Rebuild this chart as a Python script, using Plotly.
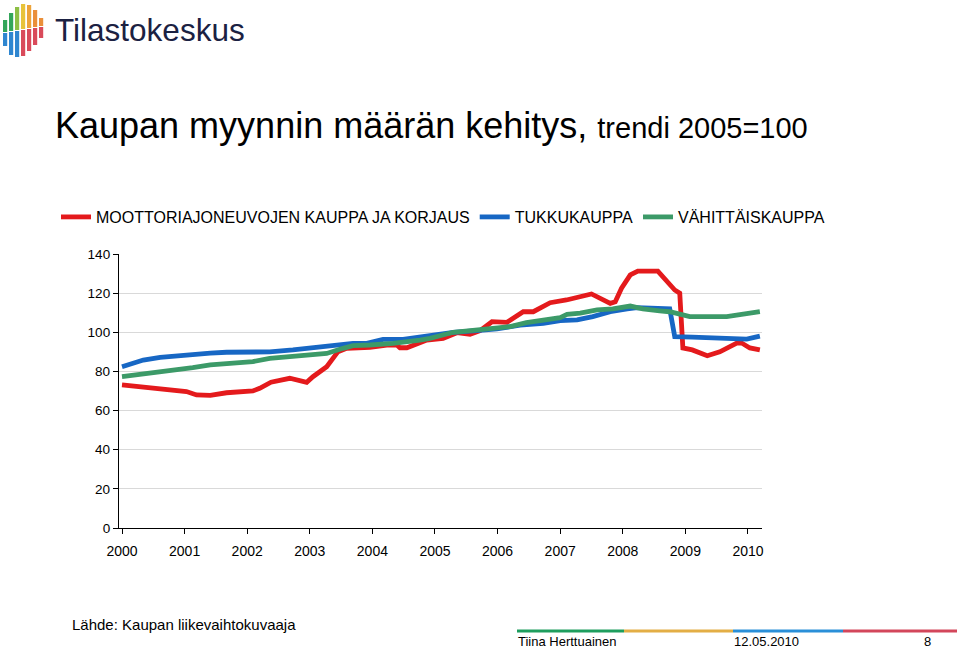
import plotly.graph_objects as go

# ---------------- data ----------------
moottori_years = [2000.00, 2000.34, 2000.61, 2000.87, 2001.03, 2001.19, 2001.41, 2001.67, 2001.93,
                  2002.09, 2002.20, 2002.38, 2002.68, 2002.95, 2003.05, 2003.27, 2003.45, 2003.59,
                  2003.96, 2004.23, 2004.39, 2004.44, 2004.55, 2004.76, 2004.87, 2005.13, 2005.35,
                  2005.56, 2005.72, 2005.91, 2006.04, 2006.15, 2006.41, 2006.57, 2006.84, 2007.10,
                  2007.50, 2007.80, 2007.88, 2007.98, 2008.12, 2008.24, 2008.56, 2008.72, 2008.83,
                  2008.91, 2008.96, 2009.11, 2009.35, 2009.55, 2009.82, 2009.90, 2010.03, 2010.19]
moottori_values = [73.1, 71.9, 70.9, 70.2, 69.7, 68.0, 67.8, 69.1, 70.0,
                   70.0, 71.4, 74.5, 76.5, 74.4, 77.3, 82.4, 90.1, 91.8,
                   92.3, 93.5, 93.5, 92.1, 92.1, 94.9, 96.0, 96.9, 99.8,
                   99.0, 100.8, 105.4, 105.1, 105.1, 110.5, 110.5, 115.1, 116.5,
                   119.6, 114.8, 115.6, 122.5, 129.3, 131.3, 131.3, 125.0, 121.6,
                   120.0, 92.0, 91.0, 88.0, 90.0, 94.5, 94.5, 92.0, 91.0]

tukku_years = [2000.00, 2000.34, 2000.61, 2000.87, 2001.13, 2001.41, 2001.67, 2001.93, 2002.36,
               2002.73, 2003.27, 2003.69, 2003.91, 2004.17, 2004.49, 2004.60, 2004.76, 2004.92,
               2005.29, 2005.67, 2005.99, 2006.36, 2006.73, 2007.00, 2007.27, 2007.52, 2007.80,
               2008.07, 2008.23, 2008.75, 2008.83, 2009.11, 2009.66, 2009.98, 2010.19]
tukku_values = [82.4, 85.8, 87.2, 88.0, 88.9, 89.3, 89.8, 90.0, 90.0,
                91.0, 92.6, 94.3, 94.3, 96.4, 96.4, 96.9, 98.0, 98.3,
                100.0, 100.8, 101.7, 103.7, 104.6, 106.0, 106.3, 108.0, 110.5,
                112.0, 112.6, 112.0, 97.8, 97.5, 96.6, 96.5, 98.0]

vahittais_years = [2000.00, 2000.34, 2000.61, 2000.87, 2001.13, 2001.41, 2001.67, 2001.93, 2002.09,
                   2002.36, 2002.73, 2003.27, 2003.53, 2003.69, 2003.96, 2004.33, 2004.76, 2004.92,
                   2005.29, 2005.67, 2005.99, 2006.20, 2006.46, 2006.84, 2007.00, 2007.11, 2007.32,
                   2007.59, 2007.84, 2008.12, 2008.32, 2008.59, 2008.75, 2008.91, 2009.07, 2009.66,
                   2009.87, 2010.19]
vahittais_values = [77.3, 78.5, 79.6, 80.7, 81.9, 83.3, 84.1, 84.6, 85.0,
                    86.7, 87.5, 89.2, 91.8, 93.2, 93.5, 94.3, 96.0, 96.9,
                    100.0, 101.2, 102.5, 102.9, 104.9, 106.3, 107.5, 109.2, 109.8,
                    111.4, 112.0, 113.4, 112.0, 111.0, 110.5, 109.3, 108.0, 108.0,
                    108.8, 110.5]

series_names = ["MOOTTORIAJONEUVOJEN KAUPPA JA KORJAUS", "TUKKUKAUPPA", "VÄHITTÄISKAUPPA"]
series_colors = ["#E41A1C", "#1767C4", "#3C9A68"]
year_ticks = list(range(2000, 2011))
y_ticks = [0, 20, 40, 60, 80, 100, 120, 140]

title_main = "Kaupan myynnin määrän kehitys,"
title_sub = "trendi 2005=100"
source_text = "Lähde: Kaupan liikevaihtokuvaaja"
footer_author = "Tiina Herttuainen"
footer_date = "12.05.2010"
footer_page = "8"
logo_text = "Tilastokeskus"

# ---------------- layout helpers ----------------
W, H = 960, 650
L, R, T, B = 119, 762, 254, 528


def px(x):
    return (x - L) / (R - L)


def py(y):
    return (B - y) / (B - T)


fig = go.Figure()
for yrs, vals, name, col in zip([moottori_years, tukku_years, vahittais_years],
                                [moottori_values, tukku_values, vahittais_values],
                                series_names, series_colors):
    fig.add_trace(go.Scatter(x=yrs, y=vals, mode="lines", name=name,
                             line=dict(color=col, width=4.8), hoverinfo="skip"))

FONT = "Arial, Liberation Sans, sans-serif"

fig.update_layout(
    width=W, height=H, autosize=False,
    margin=dict(l=L, r=W - R, t=T, b=H - B, pad=0, autoexpand=False),
    paper_bgcolor="white", plot_bgcolor="white",
    font=dict(family=FONT, color="black"),
    showlegend=True,
    legend=dict(orientation="h", x=px(830), xanchor="right", y=py(217), yanchor="middle",
                font=dict(size=16, family=FONT, color="black"),
                bgcolor="rgba(0,0,0,0)", itemwidth=30, tracegroupgap=0),
    xaxis=dict(range=[1999.952, 2010.224], tickmode="array", tickvals=year_ticks,
               ticktext=[str(y) for y in year_ticks],
               ticks="outside", ticklen=5, tickcolor="black", tickwidth=1,
               showline=True, linecolor="black", linewidth=1.3,
               showgrid=False, zeroline=False, ticklabelstandoff=5,
               tickfont=dict(size=14, family=FONT, color="black")),
    yaxis=dict(range=[0, 140], tickmode="array", tickvals=y_ticks,
               ticks="outside", ticklen=5, tickcolor="black", tickwidth=1,
               showline=True, linecolor="black", linewidth=1.3,
               showgrid=True, gridcolor="#D9D9D9", gridwidth=1, zeroline=False,
               tickfont=dict(size=13.5, family=FONT, color="black")),
)

annotations = []
# Title
annotations.append(dict(
    xref="paper", yref="paper", x=px(53), y=py(126), xanchor="left", yanchor="middle",
    text=title_main + " <span style='font-size:29px'>" + title_sub + "</span>",
    showarrow=False, font=dict(size=36, family=FONT, color="black")))
# Logo text
annotations.append(dict(
    xref="paper", yref="paper", x=px(53), y=py(30), xanchor="left", yanchor="middle",
    text=logo_text, showarrow=False, font=dict(size=31.5, family=FONT, color="#1B2142")))
# Source
annotations.append(dict(
    xref="paper", yref="paper", x=px(70), y=py(624), xanchor="left", yanchor="middle",
    text=source_text, showarrow=False, font=dict(size=15, family=FONT, color="black")))
# Footer
for txt, x0, anc in [(footer_author, 517, "left"), (footer_date, 733, "left"), (footer_page, 927, "center")]:
    annotations.append(dict(
        xref="paper", yref="paper", x=px(x0), y=py(650), xanchor=anc, yanchor="bottom",
        text=txt, showarrow=False, borderpad=0,
        font=dict(size=13, family=FONT, color="black")))
fig.update_layout(annotations=annotations)

shapes = []
# Footer colour stripe
stripe = [(517, 624, "#1E9E5E"), (624, 733, "#E3AE45"), (733, 843, "#2A8FD8"), (843, 957, "#D3465B")]
for x0, x1, c in stripe:
    shapes.append(dict(type="rect", xref="paper", yref="paper", x0=px(x0), x1=px(x1),
                       y0=py(632.5), y1=py(629.5), fillcolor=c, line=dict(width=0), layer="above"))

# Logo bars: (x, top, split, bottom, top colour, bottom colour)
logo_bars = [
    (3, 20, 32, 46, "#33A65A", "#2E86D0"),
    (9, 13, 31, 55, "#33A65A", "#2E86D0"),
    (15, 7, 30, 57, "#8DBF45", "#2E86D0"),
    (21, 4, 29, 56, "#E8C33A", "#D94A5A"),
    (27, 5, 28, 51, "#EDA33A", "#D94A5A"),
    (33, 10, 27, 45, "#EA8F3A", "#D94A5A"),
    (39, 18, 26, 38, "#EA8F3A", "#D94A5A"),
]
for x, top, split, bot, c1, c2 in logo_bars:
    shapes.append(dict(type="rect", xref="paper", yref="paper", x0=px(x), x1=px(x + 4.2),
                       y0=py(split), y1=py(top), fillcolor=c1, line=dict(width=0)))
    shapes.append(dict(type="rect", xref="paper", yref="paper", x0=px(x), x1=px(x + 4.2),
                       y0=py(bot), y1=py(split + 1), fillcolor=c2, line=dict(width=0)))
fig.update_layout(shapes=shapes)

fig.write_html("out.html")
